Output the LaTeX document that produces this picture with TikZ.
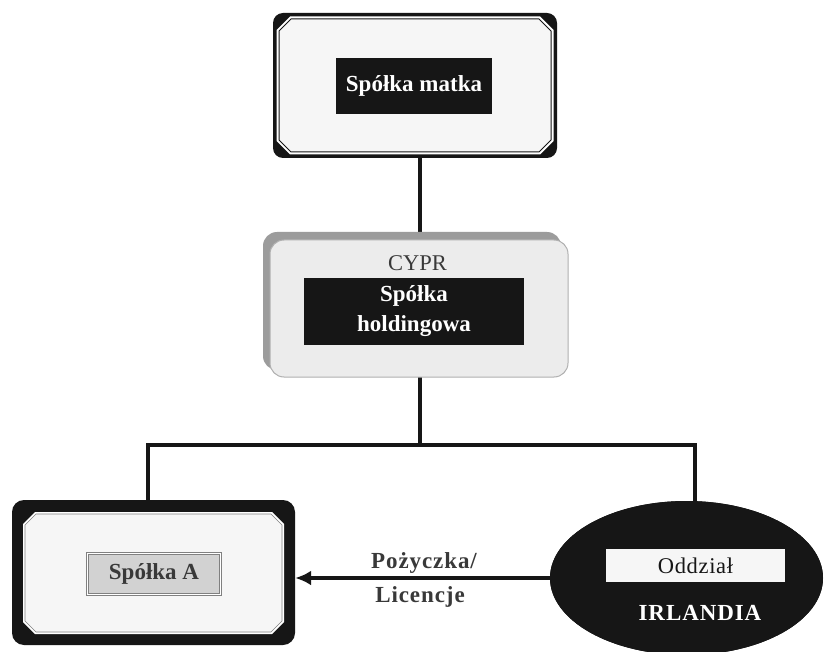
\documentclass[tikz,border=0pt]{standalone}
\usepackage{fontspec}
\setmainfont{Liberation Serif}
\usetikzlibrary{arrows.meta,shapes.geometric,calc}
\definecolor{ink}{HTML}{161616}
\definecolor{paper}{HTML}{F6F6F6}
\definecolor{holdfill}{HTML}{ECECEC}
\definecolor{holdshadow}{HTML}{9C9C9C}
\definecolor{labelgray}{HTML}{D2D2D2}
\tikzset{
  conn/.style={line width=3.5pt, draw=ink},
  area/.style={inner sep=0pt, draw=none},
  blacklabel/.style={fill=ink, text=white, inner sep=0pt, align=center,
    font=\fontsize{23}{30}\selectfont\bfseries},
  plain/.style={inner sep=0pt, font=\fontsize{22.5}{27}\selectfont},
  boldtxt/.style={inner sep=0pt, font=\fontsize{23}{28}\selectfont\bfseries},
}
\begin{document}
\begin{tikzpicture}[x=1pt,y=-1pt]
\useasboundingbox (0,0) rectangle (827,652);
\fill[white] (0,0) rectangle (827,652);

% invisible extents of the boxes
\node[area, minimum width=284pt, minimum height=145pt] (matka) at (415,85.5) {};
\node[area, minimum width=305pt, minimum height=145pt] (hold) at (415.5,304.5) {};
\node[area, minimum width=283pt, minimum height=145pt] (A) at (153.5,572.5) {};
\node[ellipse, fill=ink, inner sep=0pt, minimum width=273pt, minimum height=154pt] (irl) at (686.5,578) {};

% connectors (behind the boxes)
\coordinate (jA) at (148,445);
\coordinate (jB) at (695,445);
\coordinate (jH) at (420,445);
\draw[conn] ([xshift=5pt]matka.south) -- ([xshift=5pt]matka.south |- hold.north);
\draw[conn] (jH |- hold.south) -- (jH);
\draw[conn] (jA |- A.north) -- (jA) -- (jB) -- (jB |- irl.north);
\node[ellipse, fill=ink, inner sep=0pt, minimum width=273pt, minimum height=154pt] at (irl) {};

% top box: Spolka matka
\fill[ink, rounded corners=10pt] (273,13) rectangle (557,158);
\fill[white] (290,16.5) -- (540,16.5) -- (553.5,30) -- (553.5,141) -- (540,154.5) -- (290,154.5) -- (276.5,141) -- (276.5,30) -- cycle;
\filldraw[fill=paper, draw=ink, line width=1pt] (291,19) -- (539,19) -- (551,31) -- (551,140) -- (539,152) -- (291,152) -- (279,140) -- (279,31) -- cycle;
\node[blacklabel, minimum width=156pt, minimum height=56pt] (matkalabel) at (414,86) {Spółka matka};

% holding box
\fill[holdshadow, rounded corners=14pt] (263,232) rectangle (561,370);
\filldraw[fill=holdfill, draw=holdshadow!80, line width=1pt, rounded corners=14pt] (270,240) rectangle (568,377);
\node[plain, text=ink!85] (cypr) at (417.5,263) {CYPR};
\node[blacklabel, minimum width=220pt, minimum height=67pt] (holdlabel) at (414,311.5) {Spółka\\holdingowa};

% Spolka A box
\fill[ink, rounded corners=12pt] (12,500) rectangle (295,645);
\fill[white] (35,512) -- (272,512) -- (284,524) -- (284,622) -- (272,634) -- (35,634) -- (23,622) -- (23,524) -- cycle;
\filldraw[fill=paper, draw=gray, line width=0.6pt] (36,514) -- (271,514) -- (282,525) -- (282,621) -- (271,632) -- (36,632) -- (25,621) -- (25,525) -- cycle;
\node[boldtxt, text=ink!85, fill=labelgray, draw=gray, double=white, double distance=1.4pt, line width=0.7pt,
  minimum width=133pt, minimum height=41pt] (Alabel) at (154,574) {Spółka A};

% Irlandia ellipse contents
\node[plain, fill=paper, minimum width=179pt, minimum height=33pt, text=ink] (oddz) at (695.5,565.5) {\addfontfeatures{LetterSpace=3}Oddział};
\node[boldtxt, text=white] (irlname) at (700,613) {\addfontfeatures{LetterSpace=4}IRLANDIA};

% arrow
\draw[conn, -{Latex[length=16pt,width=15pt]}] (irl.west) -- (irl.west -| A.east);
\node[boldtxt, text=ink!85] (poz) at (424,563) {\addfontfeatures{LetterSpace=4}Pożyczka/};
\node[boldtxt, text=ink!85] (lic) at (420,597) {\addfontfeatures{LetterSpace=4}Licencje};
\end{tikzpicture}
\end{document}
